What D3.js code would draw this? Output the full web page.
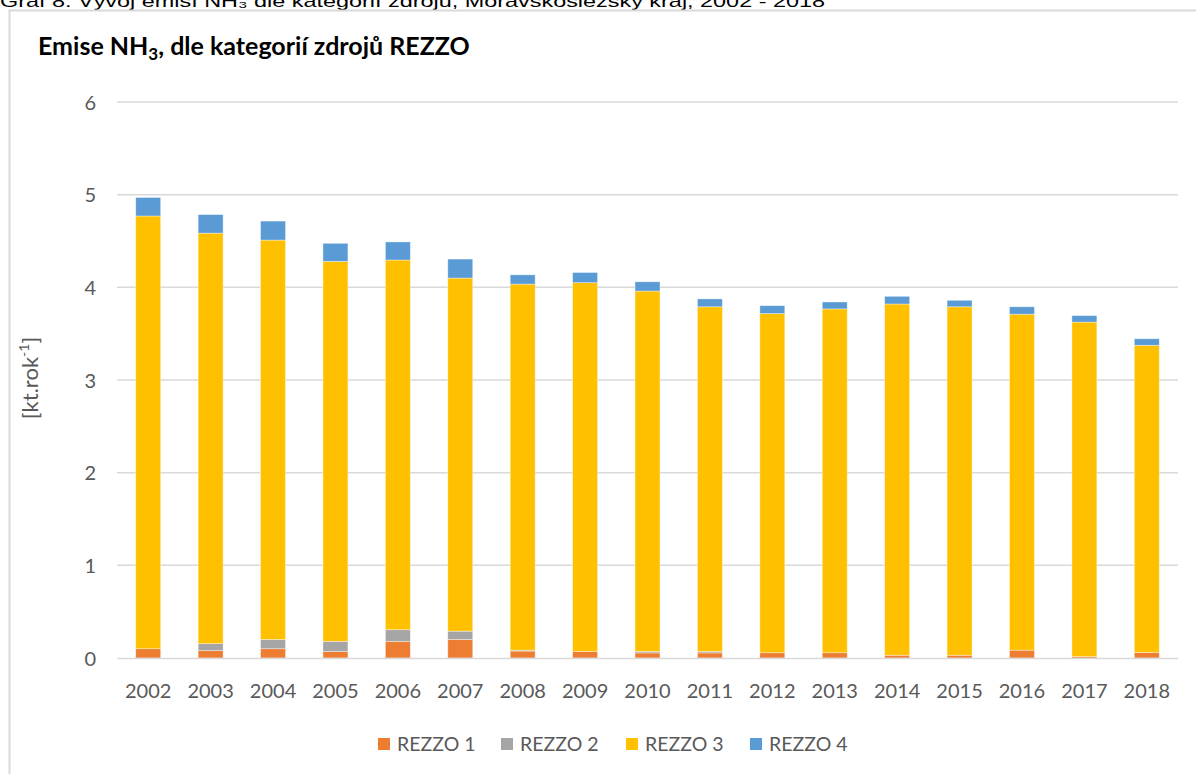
<!DOCTYPE html>
<html><head><meta charset="utf-8">
<script src="https://cdn.jsdelivr.net/npm/d3@7"></script>
<style>
body{margin:0;background:#fff;}
svg{display:block;font-family:Lato,"Open Sans",sans-serif;}
</style></head>
<body><svg id="c" width="1196" height="774"></svg>
<script>
const years = ["2002","2003","2004","2005","2006","2007","2008","2009","2010","2011","2012","2013","2014","2015","2016","2017","2018"];
const rezzo1 = [0.10,0.08,0.10,0.07,0.18,0.20,0.075,0.07,0.055,0.055,0.057,0.057,0.03,0.03,0.085,0.015,0.06];
const rezzo2 = [0.00,0.075,0.10,0.11,0.125,0.09,0.01,0.00,0.015,0.015,0.00,0.00,0.00,0.00,0.00,0.00,0.00];
const rezzo3 = [4.67,4.43,4.31,4.10,3.99,3.81,3.95,3.98,3.89,3.72,3.66,3.71,3.79,3.76,3.625,3.61,3.315];
const rezzo4 = [0.20,0.20,0.205,0.195,0.195,0.205,0.10,0.11,0.10,0.085,0.085,0.075,0.083,0.07,0.08,0.07,0.07];
const seriesNames = ["REZZO 1","REZZO 2","REZZO 3","REZZO 4"];
const colors = ["#ED7D31","#A5A5A5","#FFC000","#5B9BD5"];
const yTicks = [0,1,2,3,4,5,6];

const svg = d3.select("#c");
const rows = years.map((y,i)=>({year:y,"REZZO 1":rezzo1[i],"REZZO 2":rezzo2[i],"REZZO 3":rezzo3[i],"REZZO 4":rezzo4[i]}));
const stack = d3.stack().keys(seriesNames)(rows);

const x = d3.scaleBand().domain(years).range([117,1178]).paddingInner(0.6).paddingOuter(0.3);
const y = d3.scaleLinear().domain([0,6]).range([658,102]);

// caption (partially cut, as in the source)
svg.append("text").attr("x",0).attr("y",7).attr("font-family","'Liberation Sans',Arial,sans-serif")
  .attr("font-size",17).attr("fill","#000").attr("textLength",825).attr("lengthAdjust","spacingAndGlyphs")
  .text("Graf 8: Vývoj emisí NH₃ dle kategorií zdrojů, Moravskoslezský kraj, 2002 - 2018");

// chart frame
svg.append("path").attr("d","M9.5,774 V10.5 H1196").attr("fill","none").attr("stroke","#d9d9d9").attr("stroke-width",2);

// title
const t = svg.append("text").attr("x",38).attr("y",55).attr("font-size",25).attr("font-weight","bold").attr("fill","#000");
t.append("tspan").text("Emise NH");
t.append("tspan").attr("font-size",17).attr("dy",5).text("3");
t.append("tspan").attr("dy",-5).text(", dle kategorií zdrojů REZZO");

// gridlines
svg.append("g").selectAll("line").data(yTicks.filter(d=>d>0)).join("line")
  .attr("x1",117).attr("x2",1178).attr("y1",d=>y(d)).attr("y2",d=>y(d))
  .attr("stroke","#d9d9d9").attr("stroke-width",1.5);

// bars
svg.append("g").selectAll("g").data(stack).join("g").attr("fill",(d,i)=>colors[i])
  .selectAll("rect").data(d=>d.filter(s=>s[1]-s[0]>0)).join("rect")
  .attr("x",d=>x(d.data.year)).attr("width",x.bandwidth())
  .attr("y",d=>y(d[1])).attr("height",d=>y(d[0])-y(d[1]))
  .attr("stroke","#fff").attr("stroke-opacity",0.5).attr("stroke-width",0.75);

// baseline
svg.append("line").attr("x1",117).attr("x2",1178).attr("y1",y(0)+0.5).attr("y2",y(0)+0.5)
  .attr("stroke","#d9d9d9").attr("stroke-width",1.5);

// y axis labels
const yAxis = d3.axisLeft(y).tickValues(yTicks).tickSize(0).tickPadding(0).tickFormat(d3.format("d"));
const ga = svg.append("g").attr("transform","translate(96,0)").call(yAxis);
ga.select(".domain").remove();
ga.selectAll("text").attr("font-size",20).attr("fill","#595959").attr("font-family","Lato,sans-serif").attr("dy","0.35em");

// x axis labels
const xAxis = d3.axisBottom(x).tickSize(0).tickPadding(0);
const gx = svg.append("g").attr("transform","translate(0,698)").call(xAxis);
gx.select(".domain").remove();
gx.selectAll("text").attr("font-size",20).attr("fill","#595959").attr("font-family","Lato,sans-serif").attr("dy",0);

// y axis title
const yt = svg.append("text").attr("transform","translate(38,378) rotate(-90)").attr("text-anchor","middle")
  .attr("font-size",22).attr("fill","#595959");
yt.append("tspan").text("[kt.rok");
yt.append("tspan").attr("font-size",14).attr("dy",-9).text("-1");
yt.append("tspan").attr("dy",9).text("]");

// legend
const legX = [378,501,626,750];
const lg = svg.append("g").selectAll("g").data(seriesNames).join("g")
  .attr("transform",(d,i)=>`translate(${legX[i]},738)`);
lg.append("rect").attr("width",12).attr("height",12).attr("fill",(d,i)=>colors[i]);
lg.append("text").attr("x",19).attr("y",12.5).attr("font-size",19.5).attr("fill","#595959").text(d=>d);
</script></body></html>
